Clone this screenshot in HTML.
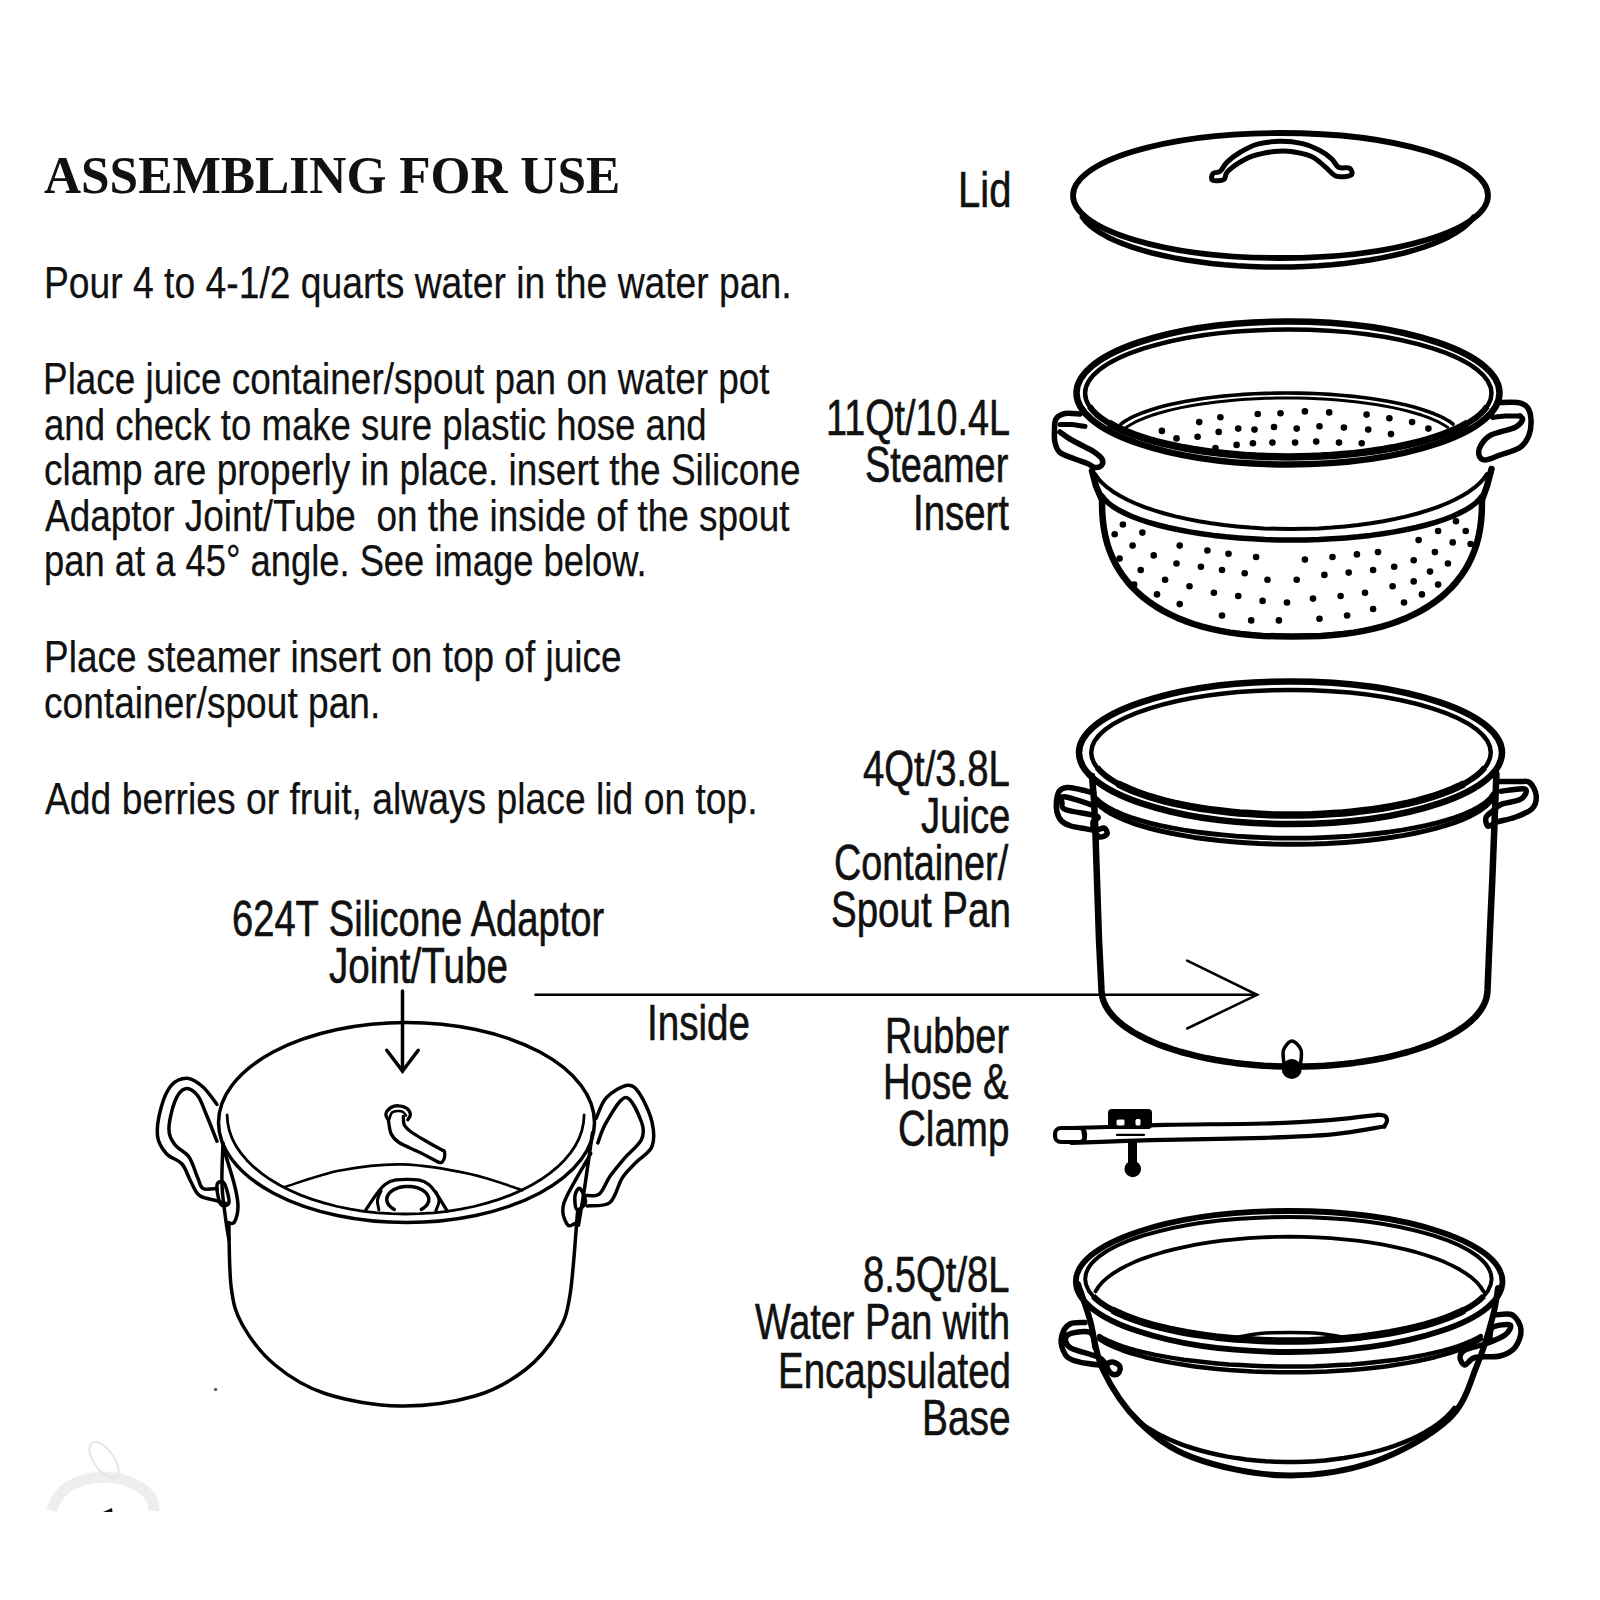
<!DOCTYPE html>
<html><head><meta charset="utf-8"><style>
html,body{margin:0;padding:0;background:#fff;width:1600px;height:1600px;overflow:hidden}
.t{position:absolute;white-space:pre;line-height:1;color:#111;transform-origin:0 0}
</style></head><body>
<svg width="1600" height="1600" viewBox="0 0 1600 1600" style="position:absolute;left:0;top:0" fill="none" stroke="#000" stroke-linecap="round" stroke-linejoin="round">
<ellipse cx="1280.5" cy="195.5" rx="207.5" ry="62.5" stroke-width="5.8"/>
<path d="M1473.6,217.1 L1470.3,221.3 L1466.2,225.3 L1461.1,229.3 L1455.2,233.2 L1448.5,236.9 L1441.0,240.5 L1432.8,243.9 L1423.8,247.1 L1414.1,250.2 L1403.9,253.0 L1393.0,255.5 L1381.6,257.9 L1369.7,260.0 L1357.4,261.8 L1344.8,263.4 L1331.8,264.7 L1318.6,265.7 L1305.1,266.4 L1291.6,266.9 L1278.0,267.0 L1264.4,266.9 L1250.9,266.4 L1237.4,265.7 L1224.2,264.7 L1211.2,263.4 L1198.6,261.8 L1186.3,260.0 L1174.4,257.9 L1163.0,255.5 L1152.1,253.0 L1141.9,250.2 L1132.2,247.1 L1123.2,243.9 L1115.0,240.5 L1107.5,236.9 L1100.8,233.2 L1094.9,229.3 L1089.8,225.3 L1085.7,221.3 L1082.4,217.1" stroke-width="5.5" />
<path d="M1213.1,173.4 C1214.4,171.9 1218.1,173.0 1220.4,171.1 C1222.7,169.2 1223.7,165.3 1227.1,162.1 C1230.5,158.9 1235.5,155.0 1240.6,152.0 C1245.7,149.0 1250.9,145.9 1257.5,144.1 C1264.1,142.3 1272.5,141.4 1280.0,141.3 C1287.5,141.2 1295.9,142.1 1302.5,143.6 C1309.1,145.1 1314.5,147.8 1319.4,150.3 C1324.3,152.8 1328.5,155.9 1331.7,158.8 C1334.9,161.6 1335.5,165.6 1338.5,167.2 C1341.5,168.8 1347.7,167.0 1349.8,168.3 C1351.8,169.6 1353.2,173.8 1350.9,175.1 C1348.7,176.4 1340.6,177.6 1336.2,176.2 C1331.9,174.8 1329.1,169.9 1325.0,166.6 C1320.9,163.3 1317.1,159.0 1311.5,156.5 C1305.9,154.0 1297.4,152.2 1291.2,151.4 C1285.1,150.6 1280.8,150.7 1274.4,151.4 C1268.0,152.2 1259.0,153.9 1253.0,155.9 C1247.0,157.9 1242.7,160.5 1238.4,163.2 C1234.1,166.0 1229.5,169.5 1227.1,172.2 C1224.7,174.9 1226.2,178.3 1223.8,179.6 C1221.3,180.9 1214.3,181.1 1212.5,180.1 C1210.7,179.1 1211.8,174.9 1213.1,173.4Z" stroke-width="5" />
<ellipse cx="1288" cy="392.95" rx="211.5" ry="71.45" stroke-width="6.5"/>
<ellipse cx="1288.3" cy="393.2" rx="203.2" ry="63.7" stroke-width="4.5"/>
<g stroke-linecap="butt">
<path d="M1487.1,406.4 L1483.7,410.7 L1479.5,414.8 L1474.4,418.8 L1468.4,422.7 L1461.6,426.5 L1453.9,430.1 L1445.5,433.5 L1436.4,436.8 L1426.6,439.9 L1416.2,442.7 L1405.1,445.3 L1393.6,447.7 L1381.5,449.8 L1369.0,451.7 L1356.1,453.2 L1342.9,454.6 L1329.5,455.6 L1315.9,456.3 L1302.1,456.8 L1288.3,456.9 L1274.5,456.8 L1260.7,456.3 L1247.1,455.6 L1233.7,454.6 L1220.5,453.2 L1207.6,451.7 L1195.1,449.8 L1183.0,447.7 L1171.5,445.3 L1160.4,442.7 L1150.0,439.9 L1140.2,436.8 L1131.1,433.5 L1122.7,430.1 L1115.0,426.5 L1108.2,422.7 L1102.2,418.8 L1097.1,414.8 L1092.9,410.7 L1089.5,406.4" stroke-width="6" />
<path d="M1467.7,423.1 L1462.3,426.1 L1456.4,429.0 L1449.9,431.8 L1443.0,434.5 L1435.7,437.0 L1427.9,439.5 L1419.7,441.8 L1411.2,443.9 L1402.2,445.9 L1393.0,447.8 L1383.4,449.5 L1373.5,451.0 L1363.4,452.4 L1353.1,453.6 L1342.6,454.6 L1331.9,455.4 L1321.1,456.1 L1310.2,456.5 L1299.3,456.8 L1288.3,456.9 L1277.3,456.8 L1266.4,456.5 L1255.5,456.1 L1244.7,455.4 L1234.0,454.6 L1223.5,453.6 L1213.2,452.4 L1203.1,451.0 L1193.2,449.5 L1183.6,447.8 L1174.4,445.9 L1165.4,443.9 L1156.9,441.8 L1148.7,439.5 L1140.9,437.0 L1133.6,434.5 L1126.7,431.8 L1120.2,429.0 L1114.3,426.1 L1108.9,423.1" stroke-width="7.5" />
</g>
<path d="M1121.0,424.0 L1124.8,421.3 L1129.2,418.7 L1134.3,416.2 L1139.9,413.8 L1146.1,411.5 L1152.8,409.2 L1160.1,407.1 L1167.9,405.1 L1176.1,403.3 L1184.8,401.6 L1193.8,400.0 L1203.2,398.5 L1213.0,397.3 L1223.0,396.1 L1233.3,395.2 L1243.8,394.4 L1254.4,393.8 L1265.2,393.4 L1276.1,393.1 L1287.0,393.0 L1297.9,393.1 L1308.8,393.4 L1319.6,393.8 L1330.2,394.4 L1340.7,395.2 L1351.0,396.1 L1361.0,397.3 L1370.8,398.5 L1380.2,400.0 L1389.2,401.6 L1397.9,403.3 L1406.1,405.1 L1413.9,407.1 L1421.2,409.2 L1427.9,411.5 L1434.1,413.8 L1439.7,416.2 L1444.8,418.7 L1449.2,421.3 L1453.0,424.0" stroke-width="3.6" />
<path d="M1126.4,427.2 L1130.4,424.7 L1135.0,422.2 L1140.1,419.8 L1145.8,417.5 L1151.9,415.3 L1158.6,413.2 L1165.7,411.2 L1173.3,409.4 L1181.2,407.6 L1189.6,406.0 L1198.3,404.5 L1207.3,403.2 L1216.6,402.0 L1226.2,400.9 L1236.0,400.0 L1246.0,399.3 L1256.1,398.7 L1266.3,398.3 L1276.6,398.1 L1287.0,398.0 L1297.4,398.1 L1307.7,398.3 L1317.9,398.7 L1328.0,399.3 L1338.0,400.0 L1347.8,400.9 L1357.4,402.0 L1366.7,403.2 L1375.7,404.5 L1384.4,406.0 L1392.8,407.6 L1400.7,409.4 L1408.3,411.2 L1415.4,413.2 L1422.1,415.3 L1428.2,417.5 L1433.9,419.8 L1439.0,422.2 L1443.6,424.7 L1447.6,427.2" stroke-width="3" />
<path d="M1092.0,471.0 L1096.0,486.0 L1102.0,500.0 L1102.2,511.7 L1102.9,520.8 L1104.0,529.1 L1105.5,536.9 L1107.4,544.3 L1109.8,551.3 L1112.6,558.0 L1115.8,564.5 L1119.4,570.7 L1123.5,576.6 L1127.9,582.3 L1132.8,587.7 L1138.0,592.8 L1143.6,597.7 L1149.7,602.3 L1156.1,606.6 L1162.8,610.6 L1170.0,614.4 L1177.5,617.9 L1185.4,621.1 L1193.6,624.0 L1202.2,626.6 L1211.2,628.9 L1220.6,630.9 L1230.4,632.6 L1240.7,634.0 L1251.5,635.1 L1263.1,635.9 L1275.7,636.3 L1292.0,636.5 L1308.3,636.3 L1320.9,635.9 L1332.5,635.1 L1343.3,634.0 L1353.6,632.6 L1363.4,630.9 L1372.8,628.9 L1381.8,626.6 L1390.4,624.0 L1398.6,621.1 L1406.5,617.9 L1414.0,614.4 L1421.2,610.6 L1427.9,606.6 L1434.3,602.3 L1440.4,597.7 L1446.0,592.8 L1451.2,587.7 L1456.1,582.3 L1460.5,576.6 L1464.6,570.7 L1468.2,564.5 L1471.4,558.0 L1474.2,551.3 L1476.6,544.3 L1478.5,536.9 L1480.0,529.1 L1481.1,520.8 L1481.8,511.7 L1482.0,500.0 L1487.0,486.0 L1491.5,469.0" stroke-width="6.5" />
<path d="M1487.0,474.0 L1483.8,478.6 L1479.7,483.1 L1474.7,487.4 L1468.9,491.7 L1462.2,495.8 L1454.7,499.8 L1446.5,503.5 L1437.5,507.1 L1427.8,510.4 L1417.5,513.5 L1406.6,516.4 L1395.2,518.9 L1383.3,521.3 L1370.9,523.3 L1358.2,525.0 L1345.1,526.4 L1331.8,527.6 L1318.3,528.4 L1304.7,528.8 L1291.0,529.0 L1277.3,528.8 L1263.7,528.4 L1250.2,527.6 L1236.9,526.4 L1223.8,525.0 L1211.1,523.3 L1198.7,521.3 L1186.8,518.9 L1175.4,516.4 L1164.5,513.5 L1154.2,510.4 L1144.5,507.1 L1135.5,503.5 L1127.3,499.8 L1119.8,495.8 L1113.1,491.7 L1107.3,487.4 L1102.3,483.1 L1098.2,478.6 L1095.0,474.0" stroke-width="4" />
<path d="M1482.1,495.9 L1479.3,499.5 L1475.6,503.1 L1470.9,506.6 L1465.5,510.0 L1459.1,513.3 L1452.0,516.5 L1444.1,519.5 L1435.4,522.3 L1426.1,525.0 L1416.1,527.5 L1405.4,529.8 L1394.3,531.9 L1382.6,533.7 L1370.5,535.4 L1358.0,536.8 L1345.2,537.9 L1332.1,538.8 L1318.9,539.5 L1305.5,539.9 L1292.0,540.0 L1278.5,539.9 L1265.1,539.5 L1251.9,538.8 L1238.8,537.9 L1226.0,536.8 L1213.5,535.4 L1201.4,533.7 L1189.7,531.9 L1178.6,529.8 L1167.9,527.5 L1157.9,525.0 L1148.6,522.3 L1139.9,519.5 L1132.0,516.5 L1124.9,513.3 L1118.5,510.0 L1113.1,506.6 L1108.4,503.1 L1104.7,499.5 L1101.9,495.9" stroke-width="5.5" />
<path d="M1080.0,414.0 C1077.5,413.9 1069.0,412.7 1065.0,413.5 C1061.0,414.3 1057.8,416.2 1056.0,419.0 C1054.2,421.8 1054.7,426.1 1054.5,430.0 C1054.3,433.9 1054.1,438.8 1055.0,442.5 C1055.9,446.2 1056.7,449.8 1060.0,452.5 C1063.3,455.2 1070.4,457.2 1075.0,459.0 C1079.6,460.8 1084.2,462.1 1087.5,463.5 C1090.8,464.9 1092.7,467.2 1095.0,467.5 C1097.3,467.8 1100.3,466.9 1101.5,465.5 C1102.7,464.1 1103.1,461.2 1102.0,459.0 C1100.9,456.8 1097.2,454.2 1095.0,452.5 C1092.8,450.8 1093.2,451.2 1089.0,449.0 C1084.8,446.8 1074.8,441.8 1070.0,439.0 C1065.2,436.2 1061.7,433.2 1060.0,432.0" stroke-width="5.5" />
<path d="M1060.0,424.5 C1062.0,424.5 1067.8,424.2 1072.0,424.5 C1076.2,424.8 1082.8,426.2 1085.0,426.5" stroke-width="5" />
<path d="M1497.5,402.5 C1500.8,402.5 1512.5,401.7 1517.5,402.5 C1522.5,403.3 1525.2,404.6 1527.5,407.5 C1529.8,410.4 1530.8,415.4 1531.0,420.0 C1531.2,424.6 1530.8,430.4 1529.0,435.0 C1527.2,439.6 1524.8,444.2 1520.0,447.5 C1515.2,450.8 1505.8,452.9 1500.0,455.0 C1494.2,457.1 1488.5,460.0 1485.0,460.0 C1481.5,460.0 1479.7,457.5 1479.0,455.0 C1478.3,452.5 1479.0,448.3 1481.0,445.0 C1483.0,441.7 1485.3,437.9 1491.0,435.0 C1496.7,432.1 1509.8,430.0 1515.0,427.5 C1520.2,425.0 1521.7,421.9 1522.5,420.0 C1523.3,418.1 1520.4,416.7 1520.0,416.0" stroke-width="5.5" />
<path d="M1492.5,417.5 C1494.6,417.2 1500.4,416.2 1505.0,416.0 C1509.6,415.8 1517.5,416.0 1520.0,416.0" stroke-width="5" />
<circle cx="1161.9" cy="430.9" r="3.3" fill="#000" stroke="none"/>
<circle cx="1199.2" cy="422.1" r="3.3" fill="#000" stroke="none"/>
<circle cx="1220.4" cy="417.2" r="3.3" fill="#000" stroke="none"/>
<circle cx="1257.7" cy="414.0" r="3.3" fill="#000" stroke="none"/>
<circle cx="1280.5" cy="413.3" r="3.3" fill="#000" stroke="none"/>
<circle cx="1304.9" cy="411.4" r="3.3" fill="#000" stroke="none"/>
<circle cx="1329.2" cy="412.4" r="3.3" fill="#000" stroke="none"/>
<circle cx="1366.6" cy="414.6" r="3.3" fill="#000" stroke="none"/>
<circle cx="1389.4" cy="418.2" r="3.3" fill="#000" stroke="none"/>
<circle cx="1412.1" cy="422.1" r="3.3" fill="#000" stroke="none"/>
<circle cx="1428.4" cy="428.6" r="3.3" fill="#000" stroke="none"/>
<circle cx="1176.5" cy="438.4" r="3.3" fill="#000" stroke="none"/>
<circle cx="1197.6" cy="436.7" r="3.3" fill="#000" stroke="none"/>
<circle cx="1218.7" cy="431.9" r="3.3" fill="#000" stroke="none"/>
<circle cx="1238.2" cy="428.6" r="3.3" fill="#000" stroke="none"/>
<circle cx="1254.5" cy="429.6" r="3.3" fill="#000" stroke="none"/>
<circle cx="1274.0" cy="427.0" r="3.3" fill="#000" stroke="none"/>
<circle cx="1296.7" cy="428.6" r="3.3" fill="#000" stroke="none"/>
<circle cx="1319.5" cy="426.3" r="3.3" fill="#000" stroke="none"/>
<circle cx="1343.9" cy="427.6" r="3.3" fill="#000" stroke="none"/>
<circle cx="1368.2" cy="429.6" r="3.3" fill="#000" stroke="none"/>
<circle cx="1391.0" cy="434.1" r="3.3" fill="#000" stroke="none"/>
<circle cx="1215.5" cy="448.1" r="3.3" fill="#000" stroke="none"/>
<circle cx="1236.6" cy="444.9" r="3.3" fill="#000" stroke="none"/>
<circle cx="1252.9" cy="443.2" r="3.3" fill="#000" stroke="none"/>
<circle cx="1272.4" cy="442.6" r="3.3" fill="#000" stroke="none"/>
<circle cx="1295.1" cy="442.6" r="3.3" fill="#000" stroke="none"/>
<circle cx="1316.2" cy="441.6" r="3.3" fill="#000" stroke="none"/>
<circle cx="1339.0" cy="442.6" r="3.3" fill="#000" stroke="none"/>
<circle cx="1361.7" cy="443.2" r="3.3" fill="#000" stroke="none"/>
<circle cx="1122.9" cy="524.5" r="3.3" fill="#000" stroke="none"/>
<circle cx="1142.4" cy="532.6" r="3.3" fill="#000" stroke="none"/>
<circle cx="1114.7" cy="534.2" r="3.3" fill="#000" stroke="none"/>
<circle cx="1132.6" cy="545.6" r="3.3" fill="#000" stroke="none"/>
<circle cx="1153.7" cy="555.4" r="3.3" fill="#000" stroke="none"/>
<circle cx="1119.6" cy="558.6" r="3.3" fill="#000" stroke="none"/>
<circle cx="1179.7" cy="545.6" r="3.3" fill="#000" stroke="none"/>
<circle cx="1207.4" cy="550.5" r="3.3" fill="#000" stroke="none"/>
<circle cx="1228.5" cy="553.7" r="3.3" fill="#000" stroke="none"/>
<circle cx="1256.1" cy="557.0" r="3.3" fill="#000" stroke="none"/>
<circle cx="1304.9" cy="559.6" r="3.3" fill="#000" stroke="none"/>
<circle cx="1332.5" cy="557.0" r="3.3" fill="#000" stroke="none"/>
<circle cx="1356.9" cy="554.4" r="3.3" fill="#000" stroke="none"/>
<circle cx="1378.0" cy="552.1" r="3.3" fill="#000" stroke="none"/>
<circle cx="1418.6" cy="540.1" r="3.3" fill="#000" stroke="none"/>
<circle cx="1438.1" cy="531.0" r="3.3" fill="#000" stroke="none"/>
<circle cx="1456.0" cy="521.2" r="3.3" fill="#000" stroke="none"/>
<circle cx="1465.7" cy="531.0" r="3.3" fill="#000" stroke="none"/>
<circle cx="1452.7" cy="542.4" r="3.3" fill="#000" stroke="none"/>
<circle cx="1470.6" cy="544.0" r="3.3" fill="#000" stroke="none"/>
<circle cx="1434.9" cy="552.1" r="3.3" fill="#000" stroke="none"/>
<circle cx="1413.7" cy="560.2" r="3.3" fill="#000" stroke="none"/>
<circle cx="1140.7" cy="570.0" r="3.3" fill="#000" stroke="none"/>
<circle cx="1176.5" cy="563.5" r="3.3" fill="#000" stroke="none"/>
<circle cx="1200.9" cy="566.7" r="3.3" fill="#000" stroke="none"/>
<circle cx="1222.0" cy="570.0" r="3.3" fill="#000" stroke="none"/>
<circle cx="1244.7" cy="573.2" r="3.3" fill="#000" stroke="none"/>
<circle cx="1267.5" cy="579.7" r="3.3" fill="#000" stroke="none"/>
<circle cx="1296.7" cy="579.7" r="3.3" fill="#000" stroke="none"/>
<circle cx="1324.4" cy="574.9" r="3.3" fill="#000" stroke="none"/>
<circle cx="1348.7" cy="572.6" r="3.3" fill="#000" stroke="none"/>
<circle cx="1373.1" cy="570.0" r="3.3" fill="#000" stroke="none"/>
<circle cx="1394.2" cy="566.7" r="3.3" fill="#000" stroke="none"/>
<circle cx="1430.0" cy="571.6" r="3.3" fill="#000" stroke="none"/>
<circle cx="1447.9" cy="563.5" r="3.3" fill="#000" stroke="none"/>
<circle cx="1165.1" cy="579.7" r="3.3" fill="#000" stroke="none"/>
<circle cx="1189.5" cy="586.2" r="3.3" fill="#000" stroke="none"/>
<circle cx="1213.9" cy="592.7" r="3.3" fill="#000" stroke="none"/>
<circle cx="1238.2" cy="596.0" r="3.3" fill="#000" stroke="none"/>
<circle cx="1262.6" cy="600.9" r="3.3" fill="#000" stroke="none"/>
<circle cx="1287.0" cy="602.5" r="3.3" fill="#000" stroke="none"/>
<circle cx="1313.0" cy="598.6" r="3.3" fill="#000" stroke="none"/>
<circle cx="1340.6" cy="596.0" r="3.3" fill="#000" stroke="none"/>
<circle cx="1365.0" cy="592.7" r="3.3" fill="#000" stroke="none"/>
<circle cx="1392.6" cy="586.2" r="3.3" fill="#000" stroke="none"/>
<circle cx="1413.7" cy="581.4" r="3.3" fill="#000" stroke="none"/>
<circle cx="1438.1" cy="584.6" r="3.3" fill="#000" stroke="none"/>
<circle cx="1134.2" cy="584.6" r="3.3" fill="#000" stroke="none"/>
<circle cx="1157.0" cy="594.4" r="3.3" fill="#000" stroke="none"/>
<circle cx="1179.7" cy="604.1" r="3.3" fill="#000" stroke="none"/>
<circle cx="1222.0" cy="615.5" r="3.3" fill="#000" stroke="none"/>
<circle cx="1251.2" cy="620.4" r="3.3" fill="#000" stroke="none"/>
<circle cx="1278.9" cy="620.4" r="3.3" fill="#000" stroke="none"/>
<circle cx="1319.5" cy="618.7" r="3.3" fill="#000" stroke="none"/>
<circle cx="1347.1" cy="615.5" r="3.3" fill="#000" stroke="none"/>
<circle cx="1373.1" cy="609.0" r="3.3" fill="#000" stroke="none"/>
<circle cx="1404.0" cy="602.5" r="3.3" fill="#000" stroke="none"/>
<circle cx="1421.9" cy="594.4" r="3.3" fill="#000" stroke="none"/>
<ellipse cx="1290.5" cy="752.75" rx="211.5" ry="71.25" stroke-width="6.5"/>
<ellipse cx="1291" cy="752.5" rx="199.75" ry="62.5" stroke-width="4.5"/>
<g stroke-linecap="butt">
<path d="M1484.8,767.6 L1481.2,771.6 L1476.7,775.5 L1471.4,779.3 L1465.4,783.0 L1458.5,786.5 L1450.9,789.9 L1442.7,793.2 L1433.7,796.2 L1424.1,799.1 L1414.0,801.8 L1403.3,804.2 L1392.1,806.4 L1380.4,808.4 L1368.4,810.1 L1356.0,811.6 L1343.4,812.8 L1330.5,813.8 L1317.4,814.5 L1304.2,814.9 L1291.0,815.0 L1277.8,814.9 L1264.6,814.5 L1251.5,813.8 L1238.6,812.8 L1226.0,811.6 L1213.6,810.1 L1201.6,808.4 L1189.9,806.4 L1178.7,804.2 L1168.0,801.8 L1157.9,799.1 L1148.3,796.2 L1139.3,793.2 L1131.1,789.9 L1123.5,786.5 L1116.6,783.0 L1110.6,779.3 L1105.3,775.5 L1100.8,771.6 L1097.2,767.6" stroke-width="6" />
<path d="M1464.0,783.8 L1458.5,786.5 L1452.6,789.2 L1446.2,791.8 L1439.4,794.3 L1432.2,796.7 L1424.7,798.9 L1416.7,801.1 L1408.4,803.1 L1399.8,804.9 L1390.9,806.6 L1381.7,808.2 L1372.2,809.6 L1362.6,810.8 L1352.7,811.9 L1342.7,812.9 L1332.5,813.6 L1322.2,814.2 L1311.9,814.7 L1301.5,814.9 L1291.0,815.0 L1280.5,814.9 L1270.1,814.7 L1259.8,814.2 L1249.5,813.6 L1239.3,812.9 L1229.3,811.9 L1219.4,810.8 L1209.8,809.6 L1200.3,808.2 L1191.1,806.6 L1182.2,804.9 L1173.6,803.1 L1165.3,801.1 L1157.3,798.9 L1149.8,796.7 L1142.6,794.3 L1135.8,791.8 L1129.4,789.2 L1123.5,786.5 L1118.0,783.8" stroke-width="7.5" />
</g>
<path d="M1493.0,794.0 L1490.5,797.6 L1487.0,801.1 L1482.5,804.6 L1477.0,808.0 L1470.5,811.3 L1463.2,814.5 L1455.0,817.5 L1445.9,820.4 L1436.1,823.1 L1425.5,825.6 L1414.3,827.9 L1402.4,830.0 L1390.0,831.9 L1377.1,833.5 L1363.7,834.9 L1350.0,836.1 L1336.0,837.0 L1321.8,837.7 L1307.4,838.1 L1293.0,838.2 L1278.6,838.1 L1264.2,837.7 L1250.0,837.0 L1236.0,836.1 L1222.3,834.9 L1208.9,833.5 L1196.0,831.9 L1183.6,830.0 L1171.7,827.9 L1160.5,825.6 L1149.9,823.1 L1140.1,820.4 L1131.0,817.5 L1122.8,814.5 L1115.5,811.3 L1109.0,808.0 L1103.5,804.6 L1099.0,801.1 L1095.5,797.6 L1093.0,794.0" stroke-width="4.8" />
<path d="M1491.9,799.4 L1489.1,803.0 L1485.3,806.6 L1480.7,810.1 L1475.2,813.4 L1468.8,816.7 L1461.6,819.9 L1453.7,822.9 L1445.0,825.7 L1435.6,828.4 L1425.5,830.9 L1414.8,833.3 L1403.6,835.4 L1391.9,837.3 L1379.6,839.0 L1367.0,840.5 L1354.1,841.7 L1340.8,842.7 L1327.4,843.5 L1313.8,844.0 L1300.0,844.2 L1286.3,844.2 L1272.6,844.0 L1259.0,843.5 L1245.5,842.7 L1232.3,841.7 L1219.3,840.5 L1206.7,839.0 L1194.5,837.4 L1182.7,835.4 L1171.4,833.3 L1160.7,831.0 L1150.7,828.5 L1141.2,825.8 L1132.5,823.0 L1124.6,819.9 L1117.4,816.8 L1111.0,813.5 L1105.4,810.1 L1100.8,806.7 L1097.0,803.1" stroke-width="5" />
<path d="M1092.0,776.0 L1094.0,800.0 L1095.2,826.0 L1097.0,880.0 L1099.0,940.0 L1101.5,990.0 L1101.8,994.0 L1102.6,998.0 L1103.9,1002.0 L1105.7,1005.9 L1108.1,1009.8 L1110.9,1013.7 L1114.3,1017.5 L1118.2,1021.2 L1122.5,1024.8 L1127.4,1028.3 L1132.6,1031.7 L1138.4,1035.0 L1144.5,1038.2 L1151.1,1041.3 L1158.0,1044.2 L1165.4,1046.9 L1173.0,1049.5 L1181.1,1052.0 L1189.4,1054.2 L1198.0,1056.3 L1206.9,1058.3 L1216.0,1060.0 L1225.3,1061.5 L1234.9,1062.9 L1244.5,1064.0 L1254.4,1064.9 L1264.3,1065.7 L1274.3,1066.2 L1284.4,1066.5 L1294.5,1066.6 L1304.6,1066.5 L1314.7,1066.2 L1324.7,1065.7 L1334.6,1064.9 L1344.5,1064.0 L1354.1,1062.9 L1363.7,1061.5 L1373.0,1060.0 L1382.1,1058.3 L1391.0,1056.3 L1399.6,1054.2 L1407.9,1052.0 L1416.0,1049.5 L1423.6,1046.9 L1431.0,1044.2 L1437.9,1041.3 L1444.5,1038.2 L1450.6,1035.0 L1456.4,1031.7 L1461.6,1028.3 L1466.5,1024.8 L1470.8,1021.2 L1474.7,1017.5 L1478.1,1013.7 L1480.9,1009.8 L1483.3,1005.9 L1485.1,1002.0 L1486.4,998.0 L1487.2,994.0 L1487.5,990.0 L1490.0,930.0 L1492.3,879.6 L1496.4,774.0" stroke-width="6.5" />
<path d="M1093.6,793.0 C1091.3,792.4 1084.5,790.4 1080.0,789.5 C1075.5,788.6 1070.3,787.2 1066.9,787.5 C1063.5,787.8 1061.1,788.8 1059.4,791.0 C1057.7,793.2 1056.9,797.5 1056.5,801.0 C1056.1,804.5 1056.2,808.7 1057.0,812.0 C1057.8,815.3 1059.3,818.7 1061.6,821.0 C1063.9,823.3 1067.2,824.8 1071.0,826.0 C1074.8,827.2 1080.4,827.8 1084.4,828.5 C1088.5,829.2 1092.0,830.6 1095.3,830.5 C1098.6,830.4 1102.0,827.4 1104.0,828.0 C1106.0,828.6 1107.7,832.5 1107.0,834.0 C1106.3,835.5 1102.0,837.3 1100.0,837.0 C1098.0,836.7 1096.2,834.5 1095.0,832.0 C1093.8,829.5 1092.7,824.6 1093.0,822.0 C1093.3,819.4 1101.4,818.3 1096.9,816.2 C1092.4,814.2 1071.8,812.0 1066.0,809.8 C1060.2,807.5 1062.3,805.2 1062.0,803.0 C1061.7,800.8 1059.4,796.4 1064.4,796.8 C1069.4,797.1 1087.4,803.6 1092.0,805.0" stroke-width="5.5" />
<path d="M1495.6,781.6 C1499.5,781.6 1513.1,781.5 1518.8,781.6 C1524.4,781.8 1526.8,780.2 1529.7,782.5 C1532.6,784.8 1535.9,791.2 1536.2,795.6 C1536.6,800.0 1535.6,805.1 1532.0,808.8 C1528.4,812.4 1520.2,815.3 1514.4,817.5 C1508.6,819.7 1501.3,820.4 1496.9,821.9 C1492.5,823.4 1489.8,827.0 1488.0,826.2 C1486.2,825.5 1485.2,820.0 1486.0,817.5 C1486.8,815.0 1490.0,813.2 1492.5,811.0 C1495.0,808.8 1496.5,806.4 1501.2,804.4 C1506.0,802.4 1517.0,801.6 1521.0,799.0 C1525.0,796.4 1528.3,790.3 1525.0,789.0 C1521.7,787.7 1505.2,790.9 1501.2,791.2" stroke-width="5.5" />
<path d="M1284.0,1064.0 C1283.9,1061.7 1282.2,1053.8 1283.5,1050.0 C1284.8,1046.2 1289.1,1041.0 1292.0,1041.0 C1294.9,1041.0 1299.6,1046.2 1301.0,1050.0 C1302.4,1053.8 1300.6,1061.7 1300.5,1064.0" stroke-width="3.5" />
<circle cx="1291.75" cy="1069" r="10" fill="#000" stroke="none"/>
<path d="M1071.2,1128.0 C1077.5,1127.8 1093.1,1127.5 1108.8,1127.0 C1124.4,1126.5 1139.0,1125.3 1165.0,1124.8 C1191.0,1124.2 1237.1,1124.3 1265.0,1123.5 C1292.9,1122.7 1313.8,1121.2 1332.5,1119.8 C1351.2,1118.3 1370.0,1115.6 1377.5,1114.8" stroke-width="4.2" />
<path d="M1071.2,1142.8 C1079.4,1142.5 1104.4,1141.8 1120.0,1141.2 C1135.6,1140.8 1140.8,1140.3 1165.0,1139.8 C1189.2,1139.2 1237.1,1138.6 1265.0,1137.8 C1292.9,1136.9 1312.6,1136.3 1332.5,1134.4 C1352.4,1132.5 1375.7,1127.8 1384.3,1126.5" stroke-width="4.2" />
<path d="M1377.5,1114.8 C1378.8,1115.0 1383.4,1115.0 1385.0,1116.0 C1386.6,1117.0 1387.1,1119.2 1387.0,1121.0 C1386.9,1122.8 1384.8,1125.6 1384.3,1126.5" stroke-width="4.2" />
<rect x="1055" y="1128" width="30" height="14" rx="6" stroke-width="4.2"/>
<path d="M1083,1129 L1085,1142" stroke-width="4" />
<rect x="1108" y="1109" width="44" height="20" rx="4" fill="#000" stroke="none"/>
<rect x="1116" y="1119" width="9" height="7" rx="2" fill="#fff"/><rect x="1135" y="1118.5" width="6" height="7.5" rx="2" fill="#fff"/>
<rect x="1128" y="1141" width="9" height="22" fill="#000" stroke="none"/>
<circle cx="1132.75" cy="1169" r="8.3" fill="#000" stroke="none"/>
<path d="M1117,1134.9 L1144,1134.9" stroke-width="2.2" />
<ellipse cx="1289.15" cy="1281.5" rx="213.35" ry="70.5" stroke-width="5.8"/>
<ellipse cx="1288.4" cy="1279" rx="203.2" ry="62" stroke-width="4"/>
<g stroke-linecap="butt">
<path d="M1483.7,1296.1 L1479.7,1299.9 L1474.9,1303.6 L1469.3,1307.2 L1462.9,1310.7 L1455.9,1314.1 L1448.1,1317.3 L1439.6,1320.4 L1430.6,1323.3 L1420.9,1326.0 L1410.7,1328.5 L1400.0,1330.8 L1388.8,1332.9 L1377.2,1334.8 L1365.2,1336.4 L1352.9,1337.8 L1340.3,1338.9 L1327.5,1339.8 L1314.6,1340.5 L1301.5,1340.9 L1288.4,1341.0 L1275.3,1340.9 L1262.2,1340.5 L1249.3,1339.8 L1236.5,1338.9 L1223.9,1337.8 L1211.6,1336.4 L1199.6,1334.8 L1188.0,1332.9 L1176.8,1330.8 L1166.1,1328.5 L1155.9,1326.0 L1146.2,1323.3 L1137.2,1320.4 L1128.7,1317.3 L1120.9,1314.1 L1113.9,1310.7 L1107.5,1307.2 L1101.9,1303.6 L1097.1,1299.9 L1093.1,1296.1" stroke-width="6" />
<path d="M1464.4,1310.0 L1458.8,1312.8 L1452.8,1315.4 L1446.3,1318.0 L1439.4,1320.5 L1432.1,1322.8 L1424.4,1325.1 L1416.3,1327.2 L1407.8,1329.2 L1399.1,1331.0 L1390.0,1332.7 L1380.7,1334.2 L1371.0,1335.6 L1361.2,1336.9 L1351.2,1338.0 L1341.0,1338.9 L1330.6,1339.6 L1320.2,1340.2 L1309.6,1340.7 L1299.0,1340.9 L1288.4,1341.0 L1277.8,1340.9 L1267.2,1340.7 L1256.6,1340.2 L1246.2,1339.6 L1235.8,1338.9 L1225.6,1338.0 L1215.6,1336.9 L1205.8,1335.6 L1196.1,1334.2 L1186.8,1332.7 L1177.7,1331.0 L1169.0,1329.2 L1160.5,1327.2 L1152.4,1325.1 L1144.7,1322.8 L1137.4,1320.5 L1130.5,1318.0 L1124.0,1315.4 L1118.0,1312.8 L1112.4,1310.0" stroke-width="7.5" />
</g>
<path d="M1095.5,1291.4 L1098.4,1286.9 L1102.1,1282.4 L1106.8,1278.1 L1112.4,1273.9 L1118.9,1269.8 L1126.2,1265.9 L1134.3,1262.1 L1143.1,1258.6 L1152.7,1255.3 L1162.9,1252.2 L1173.7,1249.3 L1185.1,1246.8 L1197.0,1244.4 L1209.4,1242.4 L1222.1,1240.7 L1235.2,1239.3 L1248.5,1238.1 L1262.1,1237.3 L1275.8,1236.9 L1289.5,1236.7 L1303.2,1236.9 L1316.9,1237.3 L1330.5,1238.1 L1343.8,1239.3 L1356.9,1240.7 L1369.6,1242.4 L1382.0,1244.4 L1393.9,1246.8 L1405.3,1249.3 L1416.1,1252.2 L1426.3,1255.3 L1435.9,1258.6 L1444.7,1262.1 L1452.8,1265.9 L1460.1,1269.8 L1466.6,1273.9 L1472.2,1278.1 L1476.9,1282.4 L1480.6,1286.9 L1483.5,1291.4" stroke-width="3.8" />
<path d="M1480.8,1336.0 L1476.2,1338.6 L1470.9,1341.2 L1464.9,1343.7 L1458.3,1346.1 L1451.1,1348.4 L1443.2,1350.6 L1434.8,1352.6 L1425.8,1354.6 L1416.4,1356.4 L1406.4,1358.1 L1396.1,1359.7 L1385.3,1361.1 L1374.2,1362.3 L1362.7,1363.4 L1351.0,1364.4 L1339.1,1365.1 L1327.0,1365.7 L1314.7,1366.2 L1302.4,1366.4 L1290.0,1366.5 L1277.6,1366.4 L1265.3,1366.2 L1253.0,1365.7 L1240.9,1365.1 L1229.0,1364.4 L1217.3,1363.4 L1205.8,1362.3 L1194.7,1361.1 L1183.9,1359.7 L1173.6,1358.1 L1163.6,1356.4 L1154.2,1354.6 L1145.2,1352.6 L1136.8,1350.6 L1128.9,1348.4 L1121.7,1346.1 L1115.1,1343.7 L1109.1,1341.2 L1103.8,1338.6 L1099.2,1336.0" stroke-width="4.5" />
<path d="M1480.8,1339.0 L1476.2,1341.9 L1470.9,1344.7 L1464.9,1347.4 L1458.3,1350.0 L1451.1,1352.5 L1443.2,1354.9 L1434.8,1357.2 L1425.8,1359.3 L1416.4,1361.3 L1406.4,1363.1 L1396.1,1364.8 L1385.3,1366.4 L1374.2,1367.7 L1362.7,1368.9 L1351.0,1370.0 L1339.1,1370.8 L1327.0,1371.5 L1314.7,1371.9 L1302.4,1372.2 L1290.0,1372.3 L1277.6,1372.2 L1265.3,1371.9 L1253.0,1371.5 L1240.9,1370.8 L1229.0,1370.0 L1217.3,1368.9 L1205.8,1367.7 L1194.7,1366.4 L1183.9,1364.8 L1173.6,1363.1 L1163.6,1361.3 L1154.2,1359.3 L1145.2,1357.2 L1136.8,1354.9 L1128.9,1352.5 L1121.7,1350.0 L1115.1,1347.4 L1109.1,1344.7 L1103.8,1341.9 L1099.2,1339.0" stroke-width="4.5" />
<path d="M1231.2,1338.3 C1236.0,1337.5 1250.2,1334.5 1260.0,1333.5 C1269.8,1332.5 1280.0,1332.5 1290.0,1332.5 C1300.0,1332.5 1310.9,1332.7 1320.0,1333.5 C1329.1,1334.3 1340.6,1336.8 1344.7,1337.5" stroke-width="3.5" />
<path d="M1078.0,1284.0 C1080.0,1290.0 1085.8,1305.7 1090.0,1320.0 C1094.2,1334.3 1094.9,1353.1 1103.0,1370.0 C1111.1,1386.9 1123.8,1406.9 1138.7,1421.5 C1153.6,1436.1 1168.6,1448.4 1192.5,1457.4 C1216.4,1466.4 1252.3,1474.5 1282.2,1475.3 C1312.1,1476.1 1344.1,1471.9 1371.9,1462.5 C1399.7,1453.1 1431.2,1435.4 1448.8,1419.0 C1466.4,1402.6 1470.1,1381.2 1477.5,1364.0 C1484.9,1346.8 1489.6,1328.3 1493.0,1315.6 C1496.4,1302.9 1497.2,1292.6 1498.0,1288.0" stroke-width="6" />
<path d="M1454.4,1408.0 L1450.8,1412.4 L1446.6,1416.6 L1441.9,1420.7 L1436.8,1424.7 L1431.1,1428.5 L1425.0,1432.2 L1418.5,1435.7 L1411.6,1439.0 L1404.2,1442.1 L1396.5,1445.1 L1388.5,1447.8 L1380.1,1450.3 L1371.5,1452.6 L1362.6,1454.6 L1353.4,1456.4 L1344.1,1458.0 L1334.6,1459.3 L1324.9,1460.4 L1315.1,1461.2 L1305.3,1461.7 L1295.3,1462.0 L1285.4,1462.0 L1275.5,1461.7 L1265.6,1461.2 L1255.9,1460.4 L1246.2,1459.4 L1236.6,1458.1 L1227.3,1456.6 L1218.1,1454.8 L1209.2,1452.7 L1200.5,1450.5 L1192.1,1448.0 L1184.1,1445.3 L1176.3,1442.4 L1169.0,1439.2 L1162.0,1435.9 L1155.5,1432.4 L1149.3,1428.8 L1143.6,1425.0 L1138.4,1421.0" stroke-width="4.5" />
<path d="M1085.0,1322.5 C1082.5,1322.8 1073.8,1321.9 1070.0,1324.0 C1066.2,1326.1 1063.2,1330.7 1062.0,1335.0 C1060.8,1339.3 1061.2,1345.8 1063.0,1350.0 C1064.8,1354.2 1066.3,1357.5 1072.5,1360.0 C1078.7,1362.5 1093.3,1364.7 1100.0,1365.0 C1106.7,1365.3 1109.2,1361.7 1112.5,1362.0 C1115.8,1362.3 1119.2,1365.0 1120.0,1367.0 C1120.8,1369.0 1119.2,1373.1 1117.5,1374.0 C1115.8,1374.9 1112.9,1375.2 1110.0,1372.5 C1107.1,1369.8 1106.7,1362.2 1100.0,1358.0 C1093.3,1353.8 1075.4,1351.3 1070.0,1347.5 C1064.6,1343.7 1064.2,1337.5 1067.5,1335.0 C1070.8,1332.5 1085.4,1330.4 1090.0,1332.5 C1094.6,1334.6 1094.2,1345.0 1095.0,1347.5" stroke-width="5.5" />
<path d="M1495.0,1315.0 C1497.9,1315.0 1508.2,1312.5 1512.5,1315.0 C1516.8,1317.5 1520.6,1324.6 1521.0,1330.0 C1521.4,1335.4 1518.5,1343.2 1515.0,1347.5 C1511.5,1351.8 1506.7,1354.3 1500.0,1356.0 C1493.3,1357.7 1480.8,1356.0 1475.0,1357.5 C1469.2,1359.0 1467.5,1365.0 1465.0,1365.0 C1462.5,1365.0 1460.0,1360.0 1460.0,1357.5 C1460.0,1355.0 1460.8,1352.2 1465.0,1350.0 C1469.2,1347.8 1478.3,1346.5 1485.0,1344.0 C1491.7,1341.5 1500.8,1338.2 1505.0,1335.0 C1509.2,1331.8 1512.1,1326.2 1510.0,1325.0 C1507.9,1323.8 1495.8,1325.0 1492.5,1327.5 C1489.2,1330.0 1490.4,1337.9 1490.0,1340.0" stroke-width="5.5" />
<ellipse cx="406.5" cy="1122.5" rx="188" ry="100" stroke-width="3.5"/>
<path d="M584.1,1115.0 L583.5,1122.8 L581.9,1130.5 L579.2,1138.1 L575.4,1145.6 L570.5,1152.9 L564.6,1159.9 L557.8,1166.7 L550.0,1173.2 L541.3,1179.3 L531.8,1185.0 L521.5,1190.3 L510.5,1195.1 L498.9,1199.4 L486.6,1203.2 L473.9,1206.5 L460.8,1209.2 L447.3,1211.3 L433.5,1212.8 L419.6,1213.7 L405.6,1214.0 L391.6,1213.7 L377.7,1212.8 L363.9,1211.3 L350.4,1209.2 L337.3,1206.5 L324.6,1203.2 L312.3,1199.4 L300.7,1195.1 L289.7,1190.3 L279.4,1185.0 L269.9,1179.3 L261.2,1173.2 L253.4,1166.7 L246.6,1159.9 L240.7,1152.9 L235.8,1145.6 L232.0,1138.1 L229.3,1130.5 L227.7,1122.8 L227.1,1115.0" stroke-width="2.8" />
<path d="M285.2,1186.8 C294.4,1184.0 320.5,1174.2 340.0,1170.5 C359.5,1166.8 380.8,1163.8 402.5,1164.4 C424.2,1165.0 450.0,1169.7 470.0,1174.0 C490.0,1178.3 513.8,1187.5 522.5,1190.2" stroke-width="2.6" />
<path d="M365.8,1209.9 C369.0,1205.7 378.1,1189.6 385.0,1184.5 C391.9,1179.4 399.6,1179.3 406.9,1179.3 C414.2,1179.3 422.1,1179.2 428.8,1184.5 C435.5,1189.8 444.1,1206.4 447.2,1210.8" stroke-width="3.3" />
<path d="M378.9,1209.9 C378.7,1208.2 377.1,1203.2 377.5,1200.0 C377.9,1196.8 380.4,1192.5 381.0,1191.0" stroke-width="3" />
<path d="M435.8,1210.8 C436.3,1209.2 439.0,1204.1 439.0,1201.0 C439.0,1197.9 436.5,1193.5 436.0,1192.0" stroke-width="3" />
<path d="M394.3,1209.4 L392.4,1208.3 L390.8,1207.0 L389.4,1205.7 L388.3,1204.3 L387.5,1202.8 L387.0,1201.2 L386.8,1199.6 L386.9,1198.0 L387.3,1196.5 L388.1,1195.0 L389.1,1193.5 L390.4,1192.1 L392.0,1190.9 L393.7,1189.7 L395.8,1188.8 L397.9,1187.9 L400.3,1187.3 L402.7,1186.8 L405.2,1186.5 L407.8,1186.4 L410.4,1186.5 L412.9,1186.8 L415.3,1187.3 L417.7,1187.9 L419.8,1188.8 L421.9,1189.7 L423.6,1190.9 L425.2,1192.1 L426.5,1193.5 L427.5,1195.0 L428.3,1196.5 L428.7,1198.0 L428.8,1199.6 L428.6,1201.2 L428.1,1202.8 L427.3,1204.3 L426.2,1205.7 L424.8,1207.0 L423.2,1208.3 L421.3,1209.4" stroke-width="3.5" />
<path d="M228.8,1222.5 C229.2,1233.3 229.0,1270.4 231.2,1287.5 C233.5,1304.6 235.2,1312.1 242.5,1325.0 C249.8,1337.9 261.2,1353.6 275.0,1365.0 C288.8,1376.4 304.2,1386.7 325.0,1393.5 C345.8,1400.3 375.0,1405.6 400.0,1406.0 C425.0,1406.4 454.2,1402.0 475.0,1396.0 C495.8,1390.0 511.2,1380.6 525.0,1370.0 C538.8,1359.4 550.0,1345.0 557.5,1332.5 C565.0,1320.0 566.7,1315.0 570.0,1295.0 C573.3,1275.0 576.2,1226.2 577.5,1212.5" stroke-width="3.5" />
<path d="M388.5,1120.6 C388.1,1119.5 385.5,1116.2 385.9,1114.0 C386.3,1111.8 388.8,1108.9 391.0,1107.5 C393.2,1106.1 396.3,1105.6 399.0,1105.8 C401.7,1105.9 405.1,1107.0 407.0,1108.5 C408.9,1110.0 410.3,1112.6 410.4,1114.5 C410.5,1116.4 408.2,1118.9 407.8,1119.8" stroke-width="3.3" />
<path d="M389.4,1118.9 C389.8,1117.8 390.6,1113.8 392.0,1112.5 C393.4,1111.2 396.3,1111.1 398.1,1111.0 C399.9,1110.9 401.7,1111.2 403.0,1112.0 C404.3,1112.8 405.5,1114.9 406.0,1115.5" stroke-width="2.6" />
<path d="M388.5,1120.6 C388.9,1122.8 389.4,1130.1 391.1,1133.8 C392.9,1137.5 394.2,1139.4 399.0,1142.5 C403.8,1145.6 413.6,1149.3 420.0,1152.5 C426.4,1155.7 434.6,1160.2 437.5,1161.8" stroke-width="3.3" />
<path d="M437.5,1161.8 C438.2,1161.9 440.3,1163.2 441.5,1162.5 C442.7,1161.8 444.0,1159.3 444.5,1157.4 C445.0,1155.5 444.8,1152.5 444.5,1151.3 C444.2,1150.1 443.1,1150.6 442.8,1150.4" stroke-width="3.3" />
<path d="M442.8,1150.4 C439.8,1148.8 430.2,1143.6 425.0,1140.5 C419.8,1137.4 414.8,1134.6 411.3,1132.0 C407.9,1129.4 405.6,1127.6 404.3,1125.0 C403.0,1122.4 403.5,1117.8 403.4,1116.3" stroke-width="3.3" />
<path d="M402.5,991 L402.5,1071" stroke-width="3.5" />
<path d="M386.75,1050.25 L402.5,1071 L418.25,1050.25" stroke-width="3.5" stroke-linejoin="miter"/>
<path d="M217.0,1104.5 C214.7,1101.6 208.0,1091.4 203.0,1087.0 C198.0,1082.6 192.5,1078.5 187.2,1078.2 C182.0,1078.0 175.9,1080.3 171.5,1085.2 C167.1,1090.2 163.3,1099.5 161.0,1108.0 C158.7,1116.5 156.6,1128.4 157.5,1136.0 C158.4,1143.6 162.2,1148.8 166.2,1153.5 C170.3,1158.2 177.9,1159.3 182.0,1164.0 C186.1,1168.7 187.8,1176.2 190.8,1181.5 C193.7,1186.8 195.1,1192.3 199.5,1195.5 C203.9,1198.7 212.3,1199.3 217.0,1200.8 C221.7,1202.2 225.8,1203.7 227.5,1204.2" stroke-width="3.5" />
<path d="M217.0,1141.2 C215.2,1136.9 209.7,1122.6 206.5,1115.0 C203.3,1107.4 201.2,1100.1 197.8,1095.8 C194.2,1091.4 189.3,1087.9 185.5,1088.8 C181.7,1089.6 177.8,1094.3 175.0,1101.0 C172.2,1107.7 168.9,1121.7 168.9,1129.0 C168.9,1136.3 171.7,1140.1 175.0,1144.8 C178.3,1149.4 185.2,1151.5 189.0,1157.0 C192.8,1162.5 195.4,1172.8 197.8,1178.0 C200.1,1183.2 199.8,1186.8 203.0,1188.5 C206.2,1190.2 214.7,1188.5 217.0,1188.5" stroke-width="3.5" />
<path d="M223.0,1143.0 C222.8,1150.0 221.5,1172.2 222.0,1185.0 C222.5,1197.8 224.6,1210.8 225.8,1220.0 C226.9,1229.2 228.5,1236.7 229.0,1240.0" stroke-width="3.5" />
<path d="M224.0,1150.0 C225.8,1155.8 232.2,1175.7 234.5,1185.0 C236.8,1194.3 238.0,1199.9 238.0,1206.0 C238.0,1212.1 236.2,1218.8 234.5,1221.8 C232.8,1224.7 228.7,1223.2 227.5,1223.5" stroke-width="3.5" />
<path d="M217.0,1185.0 C217.6,1181.5 222.0,1180.1 224.0,1183.0 C226.0,1185.9 229.6,1199.0 229.0,1202.5 C228.4,1206.0 222.5,1206.9 220.5,1204.0 C218.5,1201.1 216.4,1188.5 217.0,1185.0Z" stroke-width="3.5" />
<path d="M596.0,1118.5 C597.8,1115.0 601.2,1103.0 606.5,1097.5 C611.8,1092.0 622.0,1085.8 627.5,1085.2 C633.0,1084.7 635.7,1087.9 639.8,1094.0 C643.8,1100.1 650.0,1113.2 652.0,1122.0 C654.0,1130.8 654.6,1139.8 652.0,1146.5 C649.4,1153.2 641.2,1157.0 636.2,1162.2 C631.3,1167.5 626.6,1171.3 622.2,1178.0 C617.9,1184.7 615.8,1197.8 610.0,1202.5 C604.2,1207.2 591.0,1205.4 587.2,1206.0" stroke-width="3.5" />
<path d="M597.8,1143.0 C599.2,1139.5 601.8,1129.6 606.5,1122.0 C611.2,1114.4 619.9,1097.5 625.8,1097.5 C631.6,1097.5 638.9,1115.0 641.5,1122.0 C644.1,1129.0 644.4,1133.4 641.5,1139.5 C638.6,1145.6 629.2,1152.6 624.0,1158.8 C618.8,1164.9 614.1,1170.4 610.0,1176.2 C605.9,1182.1 603.6,1190.5 599.5,1193.8 C595.4,1197.0 587.8,1195.2 585.5,1195.5" stroke-width="3.5" />
<path d="M592.5,1132.5 C591.2,1141.2 587.3,1169.5 585.0,1185.0 C582.7,1200.5 579.6,1218.5 578.5,1225.2" stroke-width="3.5" />
<path d="M590.8,1153.5 C587.0,1160.2 572.7,1184.1 568.0,1193.8 C563.3,1203.4 562.8,1206.0 562.8,1211.2 C562.8,1216.5 566.0,1223.2 568.0,1225.2 C570.0,1227.3 573.8,1223.8 575.0,1223.5" stroke-width="3.5" />
<path d="M580.0,1188.5 C581.8,1189.7 586.0,1199.0 585.5,1202.5 C585.0,1206.0 578.5,1210.7 576.8,1209.5 C575.0,1208.3 574.5,1199.0 575.0,1195.5 C575.5,1192.0 578.2,1187.3 580.0,1188.5Z" stroke-width="3.5" />
<path d="M52,1511 C58,1480 100,1470 130,1482 C148,1490 155,1500 154,1511" stroke="#eeeeee" stroke-width="11" stroke-linecap="butt"/>
<circle cx="215.6" cy="1389.5" r="1.8" fill="#666" stroke="none"/>
<ellipse cx="104" cy="1460" rx="10" ry="21" transform="rotate(-35 104 1460)" stroke="#e6e6e6" stroke-width="2"/>
<path d="M103,1512 L112,1508 L112.5,1512 Z" fill="#111" stroke="none"/>
<path d="M535.5,994.8 L1257,994.8" stroke-width="2.6" />
<path d="M1187.2,960.7 L1257,994.8 L1187.2,1028.5" stroke-width="2.6" stroke-linejoin="miter"/>
</svg>
<div class="t" style="left:44.41px;top:149.76px;font-family:'Liberation Serif',serif;font-weight:bold;font-size:52.0px;transform:scaleX(0.9872);-webkit-text-stroke:0px #111">ASSEMBLING FOR USE</div>
<div class="t" style="left:43.87px;top:261.15px;font-family:'Liberation Sans',sans-serif;font-weight:normal;font-size:44.0px;transform:scaleX(0.8467);-webkit-text-stroke:0.25px #111">Pour 4 to 4-1/2 quarts water in the water pan.</div>
<div class="t" style="left:43.45px;top:356.55px;font-family:'Liberation Sans',sans-serif;font-weight:normal;font-size:44.0px;transform:scaleX(0.8391);-webkit-text-stroke:0.25px #111">Place juice container/spout pan on water pot</div>
<div class="t" style="left:44.04px;top:402.75px;font-family:'Liberation Sans',sans-serif;font-weight:normal;font-size:44.0px;transform:scaleX(0.8310);-webkit-text-stroke:0.25px #111">and check to make sure plastic hose and</div>
<div class="t" style="left:44.02px;top:448.45px;font-family:'Liberation Sans',sans-serif;font-weight:normal;font-size:44.0px;transform:scaleX(0.8405);-webkit-text-stroke:0.25px #111">clamp are properly in place. insert the Silicone</div>
<div class="t" style="left:45.00px;top:494.25px;font-family:'Liberation Sans',sans-serif;font-weight:normal;font-size:44.0px;transform:scaleX(0.8400);-webkit-text-stroke:0.25px #111">Adaptor Joint/Tube&nbsp; on the inside of the spout</div>
<div class="t" style="left:44.02px;top:539.25px;font-family:'Liberation Sans',sans-serif;font-weight:normal;font-size:44.0px;transform:scaleX(0.8260);-webkit-text-stroke:0.25px #111">pan at a 45° angle. See image below.</div>
<div class="t" style="left:43.54px;top:634.65px;font-family:'Liberation Sans',sans-serif;font-weight:normal;font-size:44.0px;transform:scaleX(0.8403);-webkit-text-stroke:0.25px #111">Place steamer insert on top of juice</div>
<div class="t" style="left:43.91px;top:680.85px;font-family:'Liberation Sans',sans-serif;font-weight:normal;font-size:44.0px;transform:scaleX(0.8432);-webkit-text-stroke:0.25px #111">container/spout pan.</div>
<div class="t" style="left:45.00px;top:776.50px;font-family:'Liberation Sans',sans-serif;font-weight:normal;font-size:44.0px;transform:scaleX(0.8471);-webkit-text-stroke:0.25px #111">Add berries or fruit, always place lid on top.</div>
<div class="t" style="left:957.56px;top:164.56px;font-family:'Liberation Sans',sans-serif;font-weight:normal;font-size:49.3px;transform:scaleX(0.8113);-webkit-text-stroke:0.6px #111">Lid</div>
<div class="t" style="left:825.85px;top:392.66px;font-family:'Liberation Sans',sans-serif;font-weight:normal;font-size:49.3px;transform:scaleX(0.7661);-webkit-text-stroke:0.6px #111">11Qt/10.4L</div>
<div class="t" style="left:865.42px;top:440.26px;font-family:'Liberation Sans',sans-serif;font-weight:normal;font-size:49.3px;transform:scaleX(0.7691);-webkit-text-stroke:0.6px #111">Steamer</div>
<div class="t" style="left:912.50px;top:487.66px;font-family:'Liberation Sans',sans-serif;font-weight:normal;font-size:49.3px;transform:scaleX(0.7781);-webkit-text-stroke:0.6px #111">Insert</div>
<div class="t" style="left:862.90px;top:743.96px;font-family:'Liberation Sans',sans-serif;font-weight:normal;font-size:49.3px;transform:scaleX(0.7763);-webkit-text-stroke:0.6px #111">4Qt/3.8L</div>
<div class="t" style="left:920.70px;top:790.96px;font-family:'Liberation Sans',sans-serif;font-weight:normal;font-size:49.3px;transform:scaleX(0.7771);-webkit-text-stroke:0.6px #111">Juice</div>
<div class="t" style="left:833.93px;top:837.96px;font-family:'Liberation Sans',sans-serif;font-weight:normal;font-size:49.3px;transform:scaleX(0.7656);-webkit-text-stroke:0.6px #111">Container/</div>
<div class="t" style="left:831.20px;top:884.96px;font-family:'Liberation Sans',sans-serif;font-weight:normal;font-size:49.3px;transform:scaleX(0.7811);-webkit-text-stroke:0.6px #111">Spout Pan</div>
<div class="t" style="left:884.85px;top:1011.26px;font-family:'Liberation Sans',sans-serif;font-weight:normal;font-size:49.3px;transform:scaleX(0.7668);-webkit-text-stroke:0.6px #111">Rubber</div>
<div class="t" style="left:883.41px;top:1056.86px;font-family:'Liberation Sans',sans-serif;font-weight:normal;font-size:49.3px;transform:scaleX(0.7756);-webkit-text-stroke:0.6px #111">Hose &amp;</div>
<div class="t" style="left:898.40px;top:1103.86px;font-family:'Liberation Sans',sans-serif;font-weight:normal;font-size:49.3px;transform:scaleX(0.7824);-webkit-text-stroke:0.6px #111">Clamp</div>
<div class="t" style="left:862.61px;top:1249.96px;font-family:'Liberation Sans',sans-serif;font-weight:normal;font-size:49.3px;transform:scaleX(0.7752);-webkit-text-stroke:0.6px #111">8.5Qt/8L</div>
<div class="t" style="left:755.40px;top:1297.06px;font-family:'Liberation Sans',sans-serif;font-weight:normal;font-size:49.3px;transform:scaleX(0.7671);-webkit-text-stroke:0.6px #111">Water Pan with</div>
<div class="t" style="left:777.60px;top:1345.96px;font-family:'Liberation Sans',sans-serif;font-weight:normal;font-size:49.3px;transform:scaleX(0.7799);-webkit-text-stroke:0.6px #111">Encapsulated</div>
<div class="t" style="left:921.66px;top:1393.16px;font-family:'Liberation Sans',sans-serif;font-weight:normal;font-size:49.3px;transform:scaleX(0.7883);-webkit-text-stroke:0.6px #111">Base</div>
<div class="t" style="left:232.17px;top:893.76px;font-family:'Liberation Sans',sans-serif;font-weight:normal;font-size:49.3px;transform:scaleX(0.7730);-webkit-text-stroke:0.6px #111">624T Silicone Adaptor</div>
<div class="t" style="left:329.19px;top:941.26px;font-family:'Liberation Sans',sans-serif;font-weight:normal;font-size:49.3px;transform:scaleX(0.7836);-webkit-text-stroke:0.6px #111">Joint/Tube</div>
<div class="t" style="left:647.19px;top:998.26px;font-family:'Liberation Sans',sans-serif;font-weight:normal;font-size:49.3px;transform:scaleX(0.7820);-webkit-text-stroke:0.6px #111">Inside</div>
</body></html>
